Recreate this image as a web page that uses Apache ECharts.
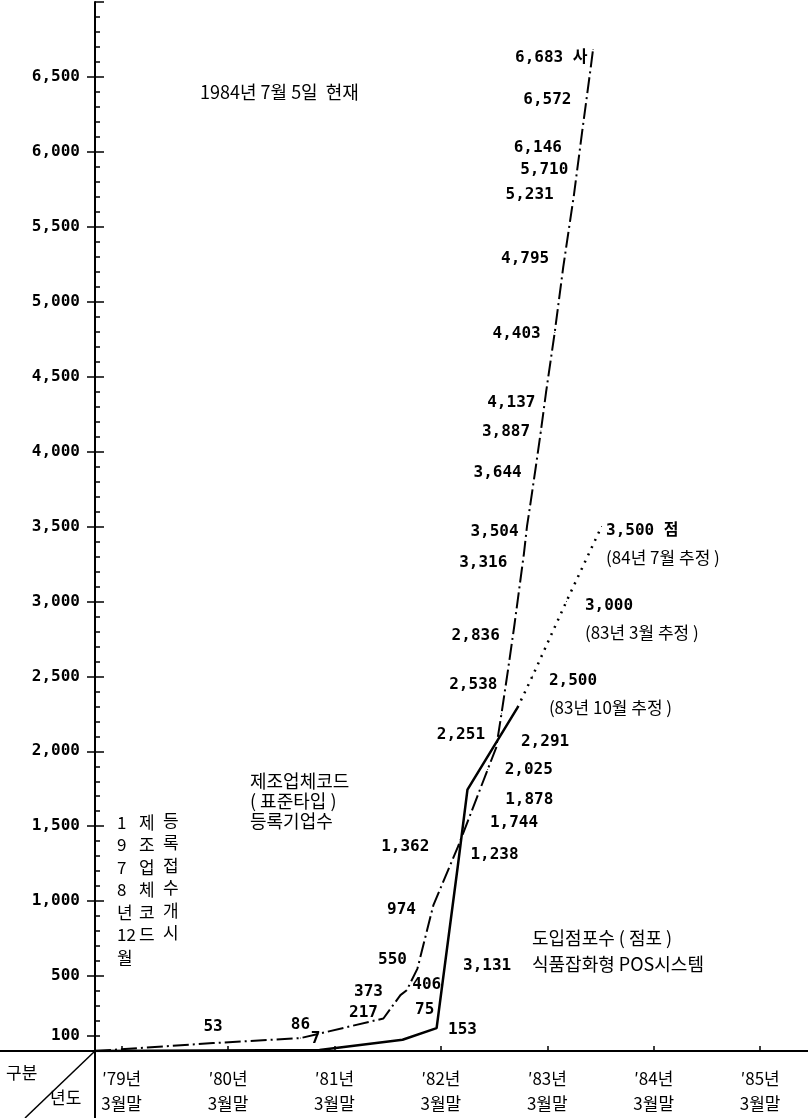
<!DOCTYPE html>
<html><head><meta charset="utf-8">
<script src="https://cdn.jsdelivr.net/npm/echarts@6/dist/echarts.min.js"></script>
<style>html,body{margin:0;padding:0;background:#fff}#c{width:808px;height:1118px}</style>
</head><body><div id="c"></div>
<script>
// ---- DATA (time as decimal year) ----
const companyTime   = [1979.00,1980.11,1980.93,1981.71,1981.87,1981.93,1982.03,1982.18,1982.41,1982.69,1982.77,1982.82,1982.88,1982.94,1983.03,1983.06,1983.09,1983.14,1983.19,1983.24,1983.32,1983.40,1983.50,1983.58,1983.66,1983.68];
const companyValues = [0,53,86,217,373,406,550,974,1362,1878,2025,2251,2538,2836,3316,3504,3644,3887,4137,4403,4795,5231,5710,6146,6572,6683];
const posTime   = [1979.00,1981.11,1981.89,1982.21,1982.41,1982.50,1982.97];
const posValues = [0,7,75,153,1238,1744,2291];
const estTime   = [1982.97,1983.11,1983.43,1983.76];
const estValues = [2291,2500,3000,3500];
const estNotes  = ['', '(83년 10월 추정 )', '(83년 3월 추정 )', '(84년 7월 추정 )'];
const xTickValues = [1979.25,1980.25,1981.25,1982.25,1983.25,1984.25,1985.25];
const xTickLabels = ['′79년\n3월말','′80년\n3월말','′81년\n3월말','′82년\n3월말','′83년\n3월말','′84년\n3월말','′85년\n3월말'];
const yLabelValues = [100,500,1000,1500,2000,2500,3000,3500,4000,4500,5000,5500,6000,6500];

// ---- label placement (style only) ----
const companyLabelPlace = [null,['top',0,-3],['top',0,0],['left',0,-6],['left',-12,-3],['right',0,-5],['left',-5,-9],['left',-12,5],['left',-23,0],['right',12,30],['right',3,22],['left',-11,21],['left',-5,14],['left',-9,10],['left',-11,9],['left',-3,6],['left',-3,-32],['left',0,-37],['left',0,-28],['left',0,-57],['left',0,-74],['left',-4,-72],['left',0,-25],['left',-15,18],['left',-14,34],['left',0,8]];
const posLabelPlace = [null,['top',-4,2],['right',7,-30],['right',6,2],['right',7,-11],['right',17,33],['right',-2,34]];
const estLabelPlace = [null,[11,-9],[13,-9],[-1,-9]];

const NUM_FONT = "'DejaVu Sans Mono','Noto Sans CJK KR',monospace";
const KR_FONT = "'Noto Sans CJK KR','Noto Sans',sans-serif";
const fmt = v => v.toLocaleString('en-US');

function buildData(times, vals, places, suffix) {
  return times.map((t, i) => {
    const p = places[i];
    const item = { value: [t, vals[i]] };
    if (p) {
      item.label = { show: true, position: p[0], offset: [p[1], p[2]], distance: 5,
        formatter: fmt(vals[i]) + (suffix && i === vals.length - 1 ? suffix : '') };
    } else item.label = { show: false };
    return item;
  });
}

const estData = estTime.map((t, i) => {
  const p = estLabelPlace[i];
  const item = { value: [t, estValues[i]] };
  if (p) {
    item.label = { show: true, position: 'right', distance: 5, offset: [p[0], p[1]],
      verticalAlign: 'top', align: 'left',
      formatter: '{v|' + fmt(estValues[i]) + (i === estValues.length - 1 ? ' 점' : '') + '}\n{n|' + estNotes[i] + '}',
      rich: { v: { fontFamily: NUM_FONT, fontSize: 16, fontWeight: 'bold', lineHeight: 27, color: '#000' },
              n: { fontFamily: KR_FONT, fontSize: 17, fontWeight: 'normal', lineHeight: 27, color: '#000' } } };
  } else item.label = { show: false };
  return item;
});

const chart = echarts.init(document.getElementById('c'), null, { renderer: 'canvas' });
const baseLabel = { fontFamily: NUM_FONT, fontSize: 16, fontWeight: 'bold', color: '#000' };

chart.setOption({
  animation: false,
  backgroundColor: '#fff',
  grid: { left: 95, right: 0, top: 2, bottom: 67, containLabel: false },
  xAxis: {
    type: 'value', min: 1979, max: 1985.7,
    axisLine: { show: true, lineStyle: { color: '#000', width: 2 } },
    axisTick: { show: true, inside: true, length: 5, lineStyle: { color: '#000', width: 1.5 }, customValues: xTickValues },
    axisLabel: { show: true, customValues: xTickValues, margin: 15, fontFamily: KR_FONT, fontSize: 17, lineHeight: 25, color: '#000',
      formatter: v => { const i = xTickValues.findIndex(x => Math.abs(x - v) < 1e-6); return i >= 0 ? xTickLabels[i] : ''; } },
    splitLine: { show: false }
  },
  yAxis: [{
    type: 'value', min: 0, max: 7000, interval: 500, position: 'left',
    axisLine: { show: true, lineStyle: { color: '#000', width: 2 } },
    axisTick: { show: true, inside: true, length: 9, lineStyle: { color: '#000', width: 1.5 } },
    minorTick: { show: true, splitNumber: 5, length: 5, lineStyle: { color: '#000', width: 1.5 } },
    axisLabel: { show: false },
    splitLine: { show: false }
  }, {
    type: 'value', min: 0, max: 7000, interval: 500, position: 'left',
    axisLine: { show: false },
    axisTick: { show: true, inside: false, length: 8, customValues: yLabelValues, lineStyle: { color: '#000', width: 1.5 } },
    axisLabel: { show: true, customValues: yLabelValues, margin: 15, fontFamily: NUM_FONT, fontSize: 16, fontWeight: 'bold', color: '#000', formatter: v => fmt(v) },
    splitLine: { show: false }
  }],
  series: [{
    name: '제조업체코드(표준타입) 등록기업수', type: 'line', yAxisIndex: 0,
    data: buildData(companyTime, companyValues, companyLabelPlace, ' 사'),
    symbol: 'circle', symbolSize: 1, showSymbol: true,
    itemStyle: { color: '#000' },
    lineStyle: { color: '#000', width: 2, type: [16, 4, 2, 4] },
    label: baseLabel, z: 3
  }, {
    name: '식품잡화형 POS시스템 도입점포수', type: 'line', yAxisIndex: 0,
    data: buildData(posTime, posValues, posLabelPlace, ''),
    symbol: 'circle', symbolSize: 1, showSymbol: true,
    itemStyle: { color: '#000' },
    lineStyle: { color: '#000', width: 2.5, type: 'solid' },
    label: baseLabel, z: 3
  }, {
    name: 'POS 추정', type: 'line', yAxisIndex: 0,
    data: estData,
    symbol: 'circle', symbolSize: 1, showSymbol: true,
    itemStyle: { color: '#000' },
    lineStyle: { color: '#000', width: 2.5, type: [2, 6] },
    label: baseLabel, z: 3
  }],
  graphic: [
    { type: 'line', shape: { x1: 0, y1: 1051, x2: 95, y2: 1051 }, style: { stroke: '#000', lineWidth: 2 } },
    { type: 'line', shape: { x1: 95, y1: 1051, x2: 95, y2: 1118 }, style: { stroke: '#000', lineWidth: 2 } },
    { type: 'line', shape: { x1: 95, y1: 1051, x2: 25, y2: 1118 }, style: { stroke: '#000', lineWidth: 1.5 } },
    { type: 'text', left: 6, top: 1064, style: { text: '구분', font: '17px ' + KR_FONT, fill: '#000' } },
    { type: 'text', left: 50, top: 1089, style: { text: '년도', font: '17px ' + KR_FONT, fill: '#000' } },
    { type: 'text', left: 200, top: 83, style: { text: '1984년 7월 5일  현재', font: '18px ' + KR_FONT, fill: '#000' } },
    { type: 'text', left: 250, top: 771, style: { text: '제조업체코드\n( 표준타입 )\n등록기업수', font: '18px ' + KR_FONT, fill: '#000', lineHeight: 20 } },
    { type: 'text', left: 117, top: 811, style: { text: '1\n9\n7\n8\n년\n12\n월', font: '17px ' + KR_FONT, fill: '#000', lineHeight: 22.5, align: 'center' } },
    { type: 'text', left: 139, top: 811, style: { text: '제\n조\n업\n체\n코\n드', font: '17px ' + KR_FONT, fill: '#000', lineHeight: 22.5 } },
    { type: 'text', left: 163, top: 809, style: { text: '등\n록\n접\n수\n개\n시', font: '17px ' + KR_FONT, fill: '#000', lineHeight: 22.5 } },
    { type: 'text', left: 532, top: 925, style: { text: '도입점포수 ( 점포 )\n식품잡화형 POS시스템', font: '18px ' + KR_FONT, fill: '#000', lineHeight: 26 } },
    { type: 'text', left: 463, top: 958, style: { text: '3,131', font: 'bold 16px ' + NUM_FONT, fill: '#000' } }
  ]
});
</script></body></html>
